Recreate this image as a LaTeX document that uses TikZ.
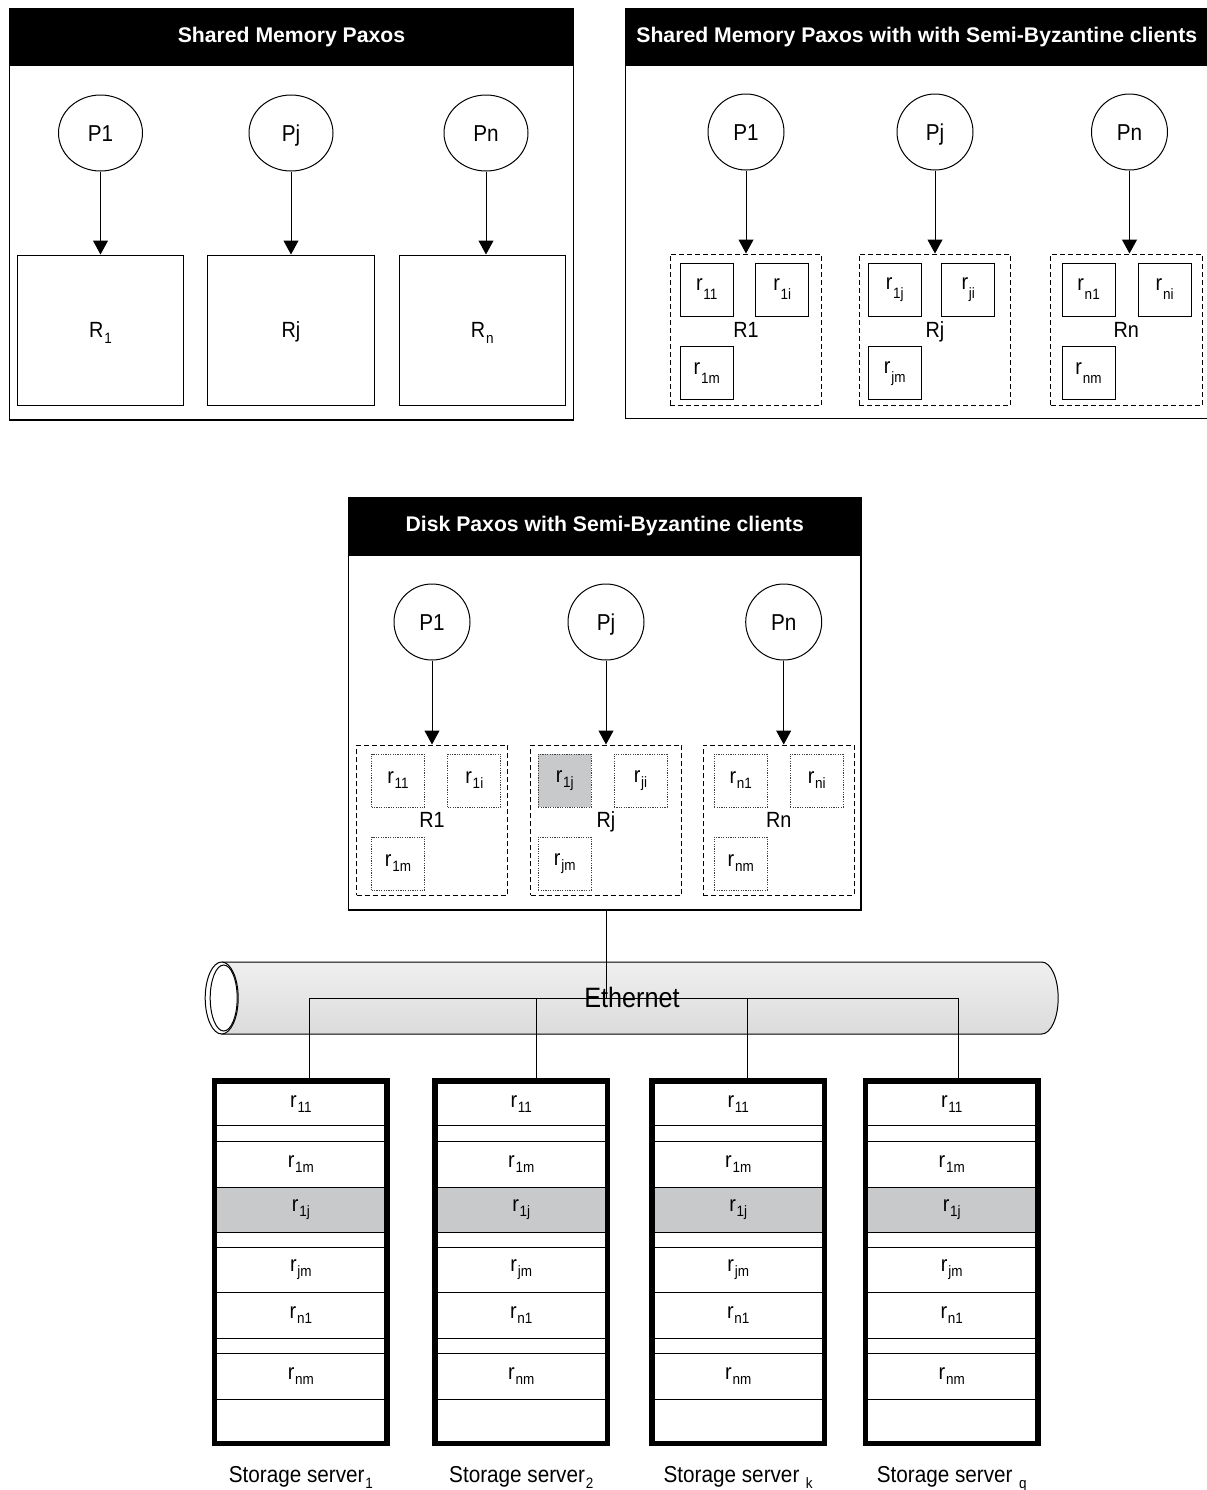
\documentclass[tikz,border=0pt]{standalone}
\usepackage{fontspec}
\setmainfont{Liberation Sans}
\newfontfamily\slimfont{Liberation Sans}[FakeStretch=0.9]
\usetikzlibrary{positioning,arrows.meta,shapes.geometric}
\definecolor{hotgray}{RGB}{200,201,203}
\newcommand{\lowsub}[2][2.5pt]{\kern0.4pt\raisebox{-#1}{\fontsize{7.5}{8}\selectfont #2}}

\begin{document}
\begin{tikzpicture}[
    x=0.5pt, y=0.5pt,
    font=\slimfont\fontsize{11}{13}\selectfont,
    panel/.style={draw, line width=0.7pt, inner sep=0pt, outer sep=0pt},
    titlebar/.style={draw, fill=black, line width=0.7pt, text=white, font=\normalfont\bfseries\fontsize{10.6}{12}\selectfont, inner sep=0pt, outer sep=0pt, anchor=north},
    proc/.style={draw, circle, line width=0.5pt, minimum size=38pt, inner sep=0pt, text height=8.2pt, text depth=0pt, font=\slimfont\fontsize{11.5}{13}\selectfont},
    flatproc/.style={proc, ellipse, minimum width=42pt, minimum height=38pt},
    regbox/.style={draw, line width=0.5pt, minimum width=83.25pt, minimum height=75pt, inner sep=0pt, text height=7.9pt, text depth=0pt},
    group/.style={draw, dash pattern=on 2.5pt off 1.5pt, line width=0.5pt, minimum width=75.75pt, minimum height=75.5pt, inner sep=0pt, text height=7.9pt, text depth=0pt},
    cell/.style={draw, line width=0.5pt, minimum size=26.5pt, inner sep=0pt},
    dotcell/.style={cell, draw=black!75, dash pattern=on 0.6pt off 0.6pt},
    arr/.style={-{Triangle[width=7.5pt,length=7pt]}, line width=0.5pt},
    link/.style={line width=0.5pt},
    server/.style={draw, line width=2.5pt, line join=miter, minimum width=86.5pt, minimum height=181.5pt, inner sep=0pt, outer sep=0pt},
    slot/.style={draw, line width=0.5pt, minimum width=84pt, minimum height=#1, inner sep=0pt, outer sep=0pt},
    srvname/.style={inner sep=0pt, font=\slimfont\fontsize{11.5}{13}\selectfont}
]
\useasboundingbox (0,0) rectangle (1206,-1490);

\node[panel, minimum width=282pt, minimum height=205.75pt] (smp) at (291.5,-214.25) {};
\node[titlebar, minimum width=282pt, minimum height=28.25pt] (smptitle) at (smp.north) {Shared Memory Paxos};
\node[flatproc] (a1) at (100.5,-133) {P1};
\node[flatproc] (aj) at (291,-133) {Pj};
\node[flatproc] (an) at (486,-133) {Pn};
\node[regbox, below=41.5pt of a1] (ra1) {R\lowsub[3pt]{1}};
\node[regbox, below=41.5pt of aj] (raj) {Rj};
\node[regbox, below=41.5pt of an, xshift=-1.85pt] (ran) {R\lowsub[3pt]{n}};
\draw[arr] (a1) -- (a1 |- ra1.north);
\draw[arr] (aj) -- (aj |- raj.north);
\draw[arr] (an) -- (an |- ran.north);

\node[panel, minimum width=291.25pt, minimum height=205pt] (smb) at (916.75,-213.5) {};
\node[titlebar, minimum width=291.25pt, minimum height=28.25pt] (smbtitle) at (smb.north) {Shared Memory Paxos with with Semi-Byzantine clients};
\node[proc] (b1) at (746,-132) {P1};
\node[proc] (bj) at (935,-132) {Pj};
\node[proc] (bn) at (1129.5,-132) {Pn};
\node[group, below=41.5pt of b1] (gb1) {R1};
\node[group, below=41.5pt of bj] (gbj) {Rj};
\node[group, below=41.5pt of bn, xshift=-1.6pt] (gbn) {Rn};
\node[cell, below right=4.5pt and 5pt of gb1.north west] (b11) {r\lowsub[4.5pt]{11}};
\node[cell, below left=4.5pt and 6.5pt of gb1.north east] (b1i) {r\lowsub[4.5pt]{1i}};
\node[cell, below right=46.35pt and 5pt of gb1.north west] (b1m) {r\lowsub[4.5pt]{1m}};
\node[cell, below right=4.5pt and 4.5pt of gbj.north west] (bj1) {r\lowsub[4.5pt]{1j}};
\node[cell, below left=4.5pt and 8pt of gbj.north east] (bji) {r\lowsub[4.5pt]{ji}};
\node[cell, below right=46.35pt and 4.5pt of gbj.north west] (bjm) {r\lowsub[4.5pt]{jm}};
\node[cell, below right=4.5pt and 5.75pt of gbn.north west] (bn1) {r\lowsub[4.5pt]{n1}};
\node[cell, below left=4.5pt and 5.5pt of gbn.north east] (bni) {r\lowsub[4.5pt]{ni}};
\node[cell, below right=46.35pt and 5.75pt of gbn.north west] (bnm) {r\lowsub[4.5pt]{nm}};
\draw[arr] (b1) -- (b1 |- gb1.north);
\draw[arr] (bj) -- (bj |- gbj.north);
\draw[arr] (bn) -- (bn |- gbn.north);

\node[panel, minimum width=256.25pt, minimum height=206.25pt] (dp) at (604.75,-703.75) {};
\node[titlebar, minimum width=256.25pt, minimum height=29pt] (dptitle) at (dp.north) {Disk Paxos with Semi-Byzantine clients};
\node[proc] (c1) at (432,-622) {P1};
\node[proc] (cj) at (606,-622) {Pj};
\node[proc] (cn) at (783.7,-622) {Pn};
\node[group, minimum width=75.5pt, minimum height=75pt, below=42pt of c1] (gc1) {R1};
\node[group, minimum width=75.5pt, minimum height=75pt, below=42pt of cj] (gcj) {Rj};
\node[group, minimum width=75.5pt, minimum height=75pt, below=42pt of cn, xshift=-2.5pt] (gcn) {Rn};
\node[dotcell, below right=4.5pt and 7.5pt of gc1.north west] (c11) {r\lowsub{11}};
\node[dotcell, below left=4.5pt and 3.35pt of gc1.north east] (c1i) {r\lowsub{1i}};
\node[dotcell, below right=46pt and 7.5pt of gc1.north west] (c1m) {r\lowsub{1m}};
\node[dotcell, fill=hotgray, below right=4.5pt and 3.85pt of gcj.north west] (cj1) {r\lowsub{1j}};
\node[dotcell, below left=4.5pt and 7.25pt of gcj.north east] (cji) {r\lowsub{ji}};
\node[dotcell, below right=46pt and 3.85pt of gcj.north west] (cjm) {r\lowsub{jm}};
\node[dotcell, below right=4.5pt and 5.5pt of gcn.north west] (cn1) {r\lowsub{n1}};
\node[dotcell, below left=4.5pt and 5.5pt of gcn.north east] (cni) {r\lowsub{ni}};
\node[dotcell, below right=46pt and 5.5pt of gcn.north west] (cnm) {r\lowsub{nm}};
\draw[arr] (c1) -- (c1 |- gc1.north);
\draw[arr] (cj) -- (cj |- gcj.north);
\draw[arr] (cn) -- (cn |- gcn.north);

\shade[top color=gray!12, middle color=white, bottom color=gray!28] (221.7,-962) -- (1041.7,-962) arc[start angle=90, end angle=-90, x radius=8.25pt, y radius=18pt] -- (221.7,-1034) -- cycle;
\draw[link] (221.7,-962) -- (1041.7,-962) arc[start angle=90, end angle=-90, x radius=8.25pt, y radius=18pt] -- (221.7,-1034);
\draw[link, fill=white] (221.7,-998) ellipse[x radius=8.25pt, y radius=18pt];
\draw[link] (223.7,-998) ellipse[x radius=6.75pt, y radius=16.5pt];

\foreach \s/\sx/\lab in {1/300.9/{Storage server\lowsub[3pt]{1}}, 2/521.25/{Storage server\lowsub[3pt]{2}}, 3/738.2/{Storage server \lowsub[3pt]{k}}, 4/951.7/{Storage server \lowsub[3pt]{q}}} {
    \node[server] (s\s) at (\sx,-1262) {};
    \node[slot=21.25pt, below=1.25pt of s\s.north] (s\s-a) {r\lowsub{11}};
    \node[slot=7.75pt, below=0pt of s\s-a] (s\s-b) {};
    \node[slot=23pt, below=0pt of s\s-b] (s\s-c) {r\lowsub{1m}};
    \node[slot=22.5pt, fill=hotgray, below=0pt of s\s-c] (s\s-d) {r\lowsub{1j}};
    \node[slot=7.5pt, below=0pt of s\s-d] (s\s-e) {};
    \node[slot=22.75pt, below=0pt of s\s-e] (s\s-f) {r\lowsub{jm}};
    \node[slot=23pt, below=0pt of s\s-f] (s\s-g) {r\lowsub{n1}};
    \node[slot=7.5pt, below=0pt of s\s-g] (s\s-h) {};
    \node[slot=23pt, below=0pt of s\s-h] (s\s-i) {r\lowsub{nm}};
    \node[slot=20.75pt, below=0pt of s\s-i] (s\s-k) {};
    \node[srvname, below=11.5pt of s\s] (n\s) {\lab};
}

\coordinate (hub) at (606,-998);
\coordinate (d1) at (309,-998);
\coordinate (d2) at (536,-998);
\coordinate (d3) at (747.5,-998);
\coordinate (d4) at (958.5,-998);
\draw[link] (hub |- dp.south) -- (hub);
\draw[link] (d1) -- (d4);
\foreach \s in {1,...,4} \draw[link] (d\s) -- (d\s |- s\s.north);
\node[inner sep=0pt, font=\slimfont\fontsize{14}{16}\selectfont] (eth) at (632,-997) {Ethernet};
\end{tikzpicture}
\end{document}
